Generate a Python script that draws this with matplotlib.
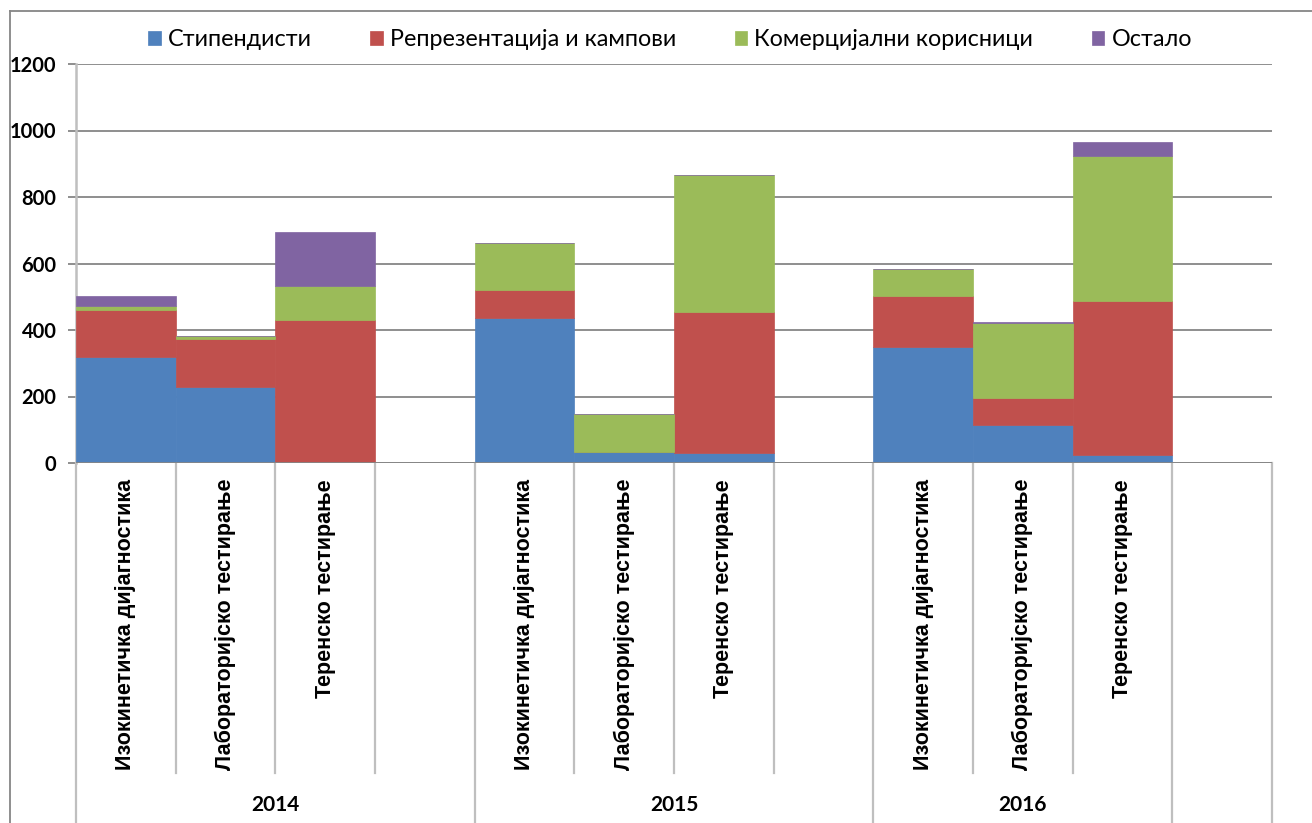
import matplotlib.pyplot as plt
from matplotlib.lines import Line2D

plt.rcParams['font.family'] = ['Lato', 'Liberation Sans', 'DejaVu Sans']

# data
years = ['2014', '2015', '2016']
categories = ['Изокинетичка дијагностика', 'Лабораторијско тестирање', 'Теренско тестирање']
series_names = ['Стипендисти', 'Репрезентација и кампови', 'Комерцијални корисници', 'Остало']
stipendisti = [318, 228, 0, 436, 33, 30, 348, 113, 23]
reprezentacija = [141, 146, 429, 84, 0, 424, 154, 81, 464]
komercijalni = [13, 8, 104, 142, 113, 411, 80, 227, 435]
ostalo = [31, 0, 162, 0, 0, 0, 2, 2, 42]
colors = ['#4F81BD', '#C0504D', '#9BBB59', '#8064A2']

# slots: each year has 3 categories, 2014 and 2015 followed by an empty slot,
# and one empty slot without a year at the end
group_sizes = [4, 4, 3]
n_slots = sum(group_sizes) + 1
xpos = []
start = 0
for g in group_sizes:
    xpos += [start + i + 0.5 for i in range(len(categories))]
    start += g

fig = plt.figure(figsize=(13.12, 8.23), dpi=100)
W, H = 1312, 823
ax = fig.add_axes([76 / W, (H - 463) / H, (1272 - 76) / W, 399 / H])

bottom = [0] * len(xpos)
for vals, name, c in zip([stipendisti, reprezentacija, komercijalni, ostalo], series_names, colors):
    ax.bar(xpos, vals, width=1.0, bottom=bottom, color=c, edgecolor=c, lw=0.5, label=name, zorder=3)
    bottom = [b + v for b, v in zip(bottom, vals)]

ax.set_xlim(0, n_slots)
ax.set_ylim(0, 1200)
ax.set_yticks(range(0, 1201, 200))
ax.set_xticks([])
ax.grid(axis='y', color='#868686', lw=1.3, zorder=0)
for s in ['top', 'right', 'bottom']:
    ax.spines[s].set_visible(False)
ax.spines['left'].set_color('#BFBFBF')
ax.spines['left'].set_linewidth(1.8)
ax.tick_params(axis='y', length=6, color='#868686', width=1.3, pad=8, labelsize=14.5)
for t in ax.get_yticklabels():
    t.set_fontweight('bold')
ax.axhline(0, color='#868686', lw=1.3, zorder=4)

# category axis: separators and labels
trans = ax.get_xaxis_transform()
group_edges = [0]
for g in group_sizes:
    group_edges.append(group_edges[-1] + g)
group_edges.append(n_slots)
for b in range(n_slots + 1):
    y_end = -0.902 if b in group_edges else -0.777
    ax.plot([b, b], [0, y_end], transform=trans, color='#BFBFBF', lw=1.6, clip_on=False)

for i, x in enumerate(xpos):
    ax.text(x, -0.04, categories[i % len(categories)], transform=trans, rotation=90,
            ha='center', va='top', fontsize=15.5, fontweight='bold', family=['Liberation Sans', 'DejaVu Sans'])

for k, yr in enumerate(years):
    xc = (group_edges[k] + group_edges[k + 1]) / 2
    ax.text(xc, -0.857, yr, transform=trans, ha='center', va='center', fontsize=15, fontweight='bold')

# chart border (cropped)
fig.add_artist(Line2D([10 / W, 1], [1 - 11 / H, 1 - 11 / H], color='#868686', lw=1.3))
fig.add_artist(Line2D([10 / W, 10 / W], [0, 1 - 11 / H], color='#868686', lw=1.3))

fig.legend(loc='center', bbox_to_anchor=(670 / W, 1 - 40 / H), ncol=4, frameon=False,
           fontsize=16.8, handlelength=0.55, handleheight=0.55, handletextpad=0.3, columnspacing=2.5,
           borderaxespad=0)

fig.savefig('out.png', dpi=100)
